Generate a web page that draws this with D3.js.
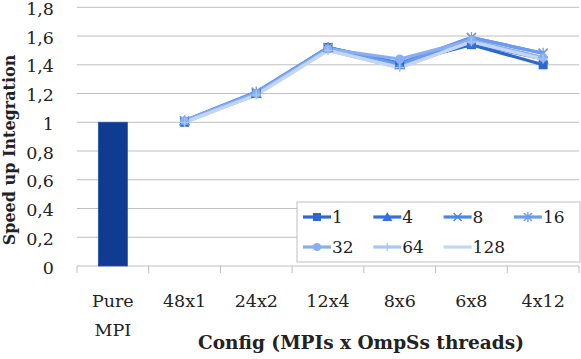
<!DOCTYPE html>
<html><head><meta charset="utf-8">
<script src="https://cdn.jsdelivr.net/npm/d3@7"></script>
<style>body{margin:0;background:#fff}svg{display:block}</style>
</head><body><svg id="c" width="581" height="359" font-family="'DejaVu Serif', serif"></svg>
<script>
const categories = ["Pure MPI","48x1","24x2","12x4","8x6","6x8","4x12"];
const barValues = [1, null, null, null, null, null, null];
const seriesNames = ["1","4","8","16","32","64","128"];
const s1   = [null, 1.00, 1.20, 1.52, 1.41, 1.54, 1.40];
const s4   = [null, 1.01, 1.20, 1.52, 1.40, 1.55, 1.44];
const s8   = [null, 1.01, 1.21, 1.52, 1.41, 1.59, 1.48];
const s16  = [null, 1.01, 1.21, 1.52, 1.40, 1.59, 1.48];
const s32  = [null, 1.01, 1.20, 1.51, 1.44, 1.57, 1.45];
const s64  = [null, 1.00, 1.19, 1.50, 1.38, 1.56, 1.44];
const s128 = [null, 1.00, 1.19, 1.50, 1.38, 1.56, 1.44];
const yTicks = [0,0.2,0.4,0.6,0.8,1,1.2,1.4,1.6,1.8];
const yTickLabels = ["0","0,2","0,4","0,6","0,8","1","1,2","1,4","1,6","1,8"];

const series = [s1,s4,s8,s16,s32,s64,s128];
const colors = ["#2d68cf","#3771d8","#4a85e8","#6c9bee","#88aff2","#a9c5f6","#c4d6f8"];
const markers = ["square","triangle","x","star","circle","plus","none"];
const FF = "'DejaVu Serif', serif";
const FS = 17.5;

const svg = d3.select("#c");
const L=77,R=579,T=7.3,B=266;
const x = d3.scaleBand().domain(categories).range([L,R]);
const y = d3.scaleLinear().domain([0,1.8]).range([B,T]);

svg.append("g").selectAll("line").data(yTicks).join("line")
  .attr("x1",L).attr("x2",R).attr("y1",d=>y(d)).attr("y2",d=>y(d))
  .attr("stroke","#bfbfbf").attr("stroke-width",1);
svg.append("g").selectAll("text").data(yTicks).join("text")
  .attr("x",54).attr("y",d=>y(d)+7.5).attr("text-anchor","end").attr("fill","#222")
  .attr("font-family",FF).attr("font-size",FS).text((d,i)=>yTickLabels[i]);
const edges = categories.map(c=>x(c)).concat([R]);
svg.append("g").selectAll("line").data(edges).join("line")
  .attr("x1",d=>d).attr("x2",d=>d).attr("y1",B).attr("y2",B+7)
  .attr("stroke","#bfbfbf");
const xl = svg.append("g");
categories.forEach(c=>{
  const cx = x(c)+x.bandwidth()/2;
  const parts = c==="Pure MPI" ? ["Pure","MPI"] : [c];
  parts.forEach((p,i)=>xl.append("text").attr("x",cx).attr("y",307+i*29).attr("fill","#222")
    .attr("text-anchor","middle").attr("font-family",FF).attr("font-size",FS).text(p));
});
const bw = 29;
svg.append("g").selectAll("rect").data(categories.filter((c,i)=>barValues[i]!=null)).join("rect")
  .attr("x",c=>x(c)+x.bandwidth()/2-bw/2).attr("width",bw)
  .attr("y",c=>y(barValues[categories.indexOf(c)])).attr("height",c=>B-y(barValues[categories.indexOf(c)]))
  .attr("fill","#0f3b91").attr("stroke","#2a54a3").attr("stroke-width",0.8);

function drawMarker(g, type, cx, cy, col, s){
  s = s||4.5;
  if(type==="square") g.append("rect").attr("x",cx-s).attr("y",cy-s).attr("width",2*s).attr("height",2*s).attr("fill",col);
  else if(type==="triangle") g.append("path").attr("d",`M${cx},${cy-s-1}L${cx+s+1},${cy+s}L${cx-s-1},${cy+s}Z`).attr("fill",col);
  else if(type==="x") g.append("path").attr("d",`M${cx-s},${cy-s}L${cx+s},${cy+s}M${cx-s},${cy+s}L${cx+s},${cy-s}`).attr("stroke",col).attr("stroke-width",1.3);
  else if(type==="star") g.append("path").attr("d",`M${cx-s},${cy-s}L${cx+s},${cy+s}M${cx-s},${cy+s}L${cx+s},${cy-s}M${cx},${cy-s-1}L${cx},${cy+s+1}`).attr("stroke",col).attr("stroke-width",1.3);
  else if(type==="circle") g.append("circle").attr("cx",cx).attr("cy",cy).attr("r",s).attr("fill",col);
  else if(type==="plus") g.append("path").attr("d",`M${cx-s},${cy}L${cx+s},${cy}M${cx},${cy-s}L${cx},${cy+s}`).attr("stroke",col).attr("stroke-width",1.3);
}

const line = d3.line().defined(d=>d[1]!=null).x(d=>x(d[0])+x.bandwidth()/2).y(d=>y(d[1]));
const lg = svg.append("g");
series.forEach((s,k)=>{
  const pts = categories.map((c,i)=>[c,s[i]]);
  lg.append("path").attr("d",line(pts)).attr("fill","none").attr("stroke",colors[k])
    .attr("stroke-width",3.2).attr("stroke-linejoin","round");
});
series.forEach((s,k)=>{
  categories.forEach((c,i)=>{ if(s[i]!=null) drawMarker(lg,markers[k],x(c)+x.bandwidth()/2,y(s[i]),colors[k]); });
});

const leg = svg.append("g");
leg.append("rect").attr("x",297).attr("y",202).attr("width",283).attr("height",60)
  .attr("fill","#fff").attr("stroke","#bfbfbf");
seriesNames.forEach((n,k)=>{
  const col = k%4, row = Math.floor(k/4);
  const lx = 303 + col*70.3, ly = 217 + row*30;
  leg.append("line").attr("x1",lx).attr("x2",lx+28).attr("y1",ly).attr("y2",ly).attr("stroke",colors[k]).attr("stroke-width",3.2);
  drawMarker(leg,markers[k],lx+14,ly,colors[k],4);
  leg.append("text").attr("x",lx+29).attr("y",ly+6.3).attr("fill","#222").attr("font-family",FF).attr("font-size",17).text(n);
});

svg.append("text").attr("x",361).attr("y",349).attr("text-anchor","middle").attr("font-weight","bold").attr("fill","#222")
  .attr("font-family",FF).attr("font-size",18.5).text("Config (MPIs x OmpSs threads)");
svg.append("text").attr("transform","translate(9,150) rotate(-90)").attr("text-anchor","middle").attr("fill","#222")
  .attr("font-weight","bold").attr("font-family",FF).attr("font-size",16).attr("dy","6").text("Speed up Integration");
</script></body></html>
